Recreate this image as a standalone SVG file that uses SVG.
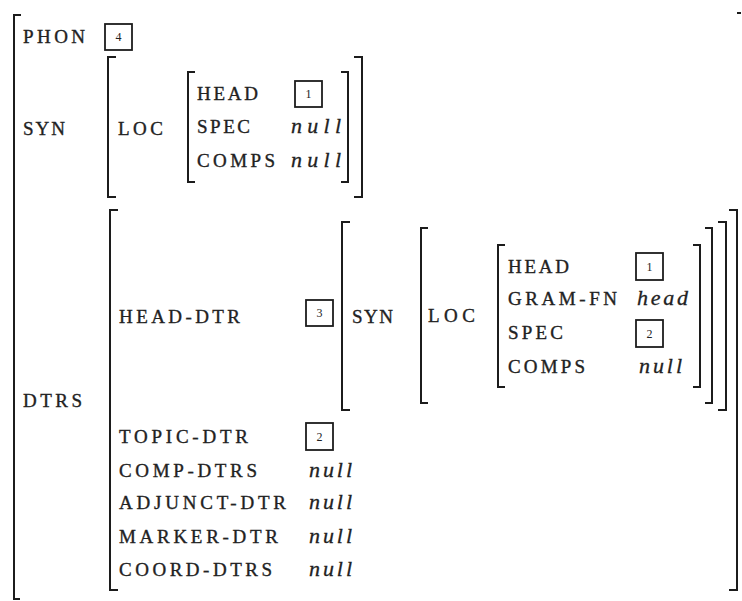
<svg xmlns="http://www.w3.org/2000/svg" width="742" height="601" viewBox="0 0 742 601">
<style>
.br{fill:none;stroke:#1c1c1c;stroke-width:2}
.k{font-family:"Liberation Serif","Times New Roman",serif;font-size:19px;fill:#222;stroke:#222;stroke-width:0.35}
.v{font-family:"Liberation Serif","Times New Roman",serif;font-size:22px;font-style:italic;fill:#222;stroke:#222;stroke-width:0.3}
.bx{fill:none;stroke:#1c1c1c;stroke-width:1.8}
.n{font-family:"Liberation Serif","Times New Roman",serif;font-size:12px;fill:#222;text-anchor:middle}
</style>
<rect width="742" height="601" fill="#fff"/>
<g id="brackets">
<path class="br" d="M21,15 H14 V599 H20"/>
<path class="br" d="M737,13 H741"/>
<path class="br" d="M116,57 H108 V197 H116"/>
<path class="br" d="M354,57 H362 V197 H354"/>
<path class="br" d="M195,72 H188 V182 H195"/>
<path class="br" d="M341,72 H348 V182 H341"/>
<path class="br" d="M118,210 H110 V590 H118"/>
<path class="br" d="M729,210 H737 V590 H729"/>
<path class="br" d="M350,222 H342 V410 H350"/>
<path class="br" d="M718,222 H726 V410 H718"/>
<path class="br" d="M428,228 H421 V403 H428"/>
<path class="br" d="M705,228 H712 V403 H705"/>
<path class="br" d="M505,245 H498 V387 H505"/>
<path class="br" d="M693,245 H700 V387 H693"/>
</g>
<g id="root">
<text class="k" x="23" y="43" textLength="62">PHON</text>
<g id="tag4"><rect class="bx" x="105" y="24" width="27" height="26"/><text class="n" x="118.5" y="41">4</text></g>
<text class="k" x="23" y="135" textLength="42">SYN</text>
<text class="k" x="23" y="407" textLength="59">DTRS</text>
</g>
<g id="syn1">
<text class="k" x="118" y="135" textLength="45">LOC</text>
<text class="k" x="197" y="100" textLength="61">HEAD</text>
<g id="tag1a"><rect class="bx" x="295" y="81" width="27" height="26"/><text class="n" x="308.5" y="98">1</text></g>
<text class="k" x="197" y="133" textLength="53">SPEC</text>
<text class="v" x="291" y="133" textLength="50">null</text>
<text class="k" x="197" y="167" textLength="78">COMPS</text>
<text class="v" x="291" y="167" textLength="50">null</text>
</g>
<g id="headdtr">
<text class="k" x="119" y="323" textLength="121">HEAD-DTR</text>
<g id="tag3"><rect class="bx" x="306" y="300" width="27" height="26"/><text class="n" x="319.5" y="317">3</text></g>
<text class="k" x="352" y="323" textLength="41">SYN</text>
<text class="k" x="428" y="322" textLength="47">LOC</text>
<text class="k" x="508" y="273" textLength="61">HEAD</text>
<g id="tag1b"><rect class="bx" x="636" y="253" width="27" height="27"/><text class="n" x="649.5" y="271">1</text></g>
<text class="k" x="508" y="305" textLength="109">GRAM-FN</text>
<text class="v" x="637" y="305" textLength="51">head</text>
<text class="k" x="508" y="339" textLength="55">SPEC</text>
<g id="tag2a"><rect class="bx" x="636" y="320" width="27" height="27"/><text class="n" x="649.5" y="338">2</text></g>
<text class="k" x="508" y="373" textLength="77">COMPS</text>
<text class="v" x="639" y="373" textLength="43">null</text>
</g>
<g id="others">
<text class="k" x="119" y="443" textLength="129">TOPIC-DTR</text>
<g id="tag2b"><rect class="bx" x="306" y="423" width="27" height="27"/><text class="n" x="319.5" y="441">2</text></g>
<text class="k" x="119" y="477" textLength="138">COMP-DTRS</text>
<text class="v" x="309" y="477" textLength="43">null</text>
<text class="k" x="119" y="509" textLength="167">ADJUNCT-DTR</text>
<text class="v" x="309" y="509" textLength="43">null</text>
<text class="k" x="119" y="543" textLength="159">MARKER-DTR</text>
<text class="v" x="309" y="543" textLength="43">null</text>
<text class="k" x="119" y="576" textLength="153">COORD-DTRS</text>
<text class="v" x="309" y="576" textLength="43">null</text>
</g>
</svg>
